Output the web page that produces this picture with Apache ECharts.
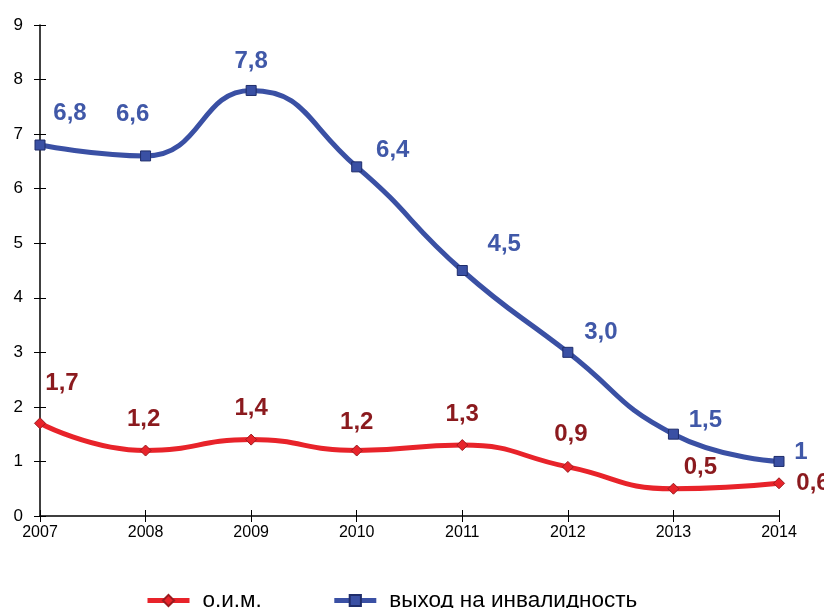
<!DOCTYPE html>
<html><head><meta charset="utf-8">
<script src="https://cdn.jsdelivr.net/npm/echarts@6/dist/echarts.min.js"></script>
<style>html,body{margin:0;padding:0;background:#fff}#c{width:824px;height:608px}</style>
</head><body><div id="c"></div>
<script>
var categories = ['2007','2008','2009','2010','2011','2012','2013','2014'];
var oimValues = [1.7, 1.2, 1.4, 1.2, 1.3, 0.9, 0.5, 0.6];
var disabilityValues = [6.8, 6.6, 7.8, 6.4, 4.5, 3.0, 1.5, 1.0];
var oimLabels = ['1,7','1,2','1,4','1,2','1,3','0,9','0,5','0,6'];
var disabilityLabels = ['6,8','6,6','7,8','6,4','4,5','3,0','1,5','1'];
var seriesNames = ['о.и.м.', 'выход на инвалидность'];

var oimOffsets = [[22,-40],[-2,-31],[0,-31],[0,-28],[0,-31],[3,-33],[27,-21],[34,0]];
var disOffsets = [[30,-32],[-13,-42],[0,-29],[36,-16],[42,-26],[33,-20],[32,-14],[22,-9]];

var FONT = '"Liberation Sans", Arial, sans-serif';

function buildData(vals, labels, offsets, color) {
  return vals.map(function (v, i) {
    return { value: v, label: { show: true, position: 'inside', offset: offsets[i], formatter: labels[i],
      color: color, fontSize: 24, fontWeight: 'bold', fontFamily: FONT } };
  });
}

var chart = echarts.init(document.getElementById('c'), null, { renderer: 'canvas' });
chart.setOption({
  animation: false,
  backgroundColor: '#fff',
  grid: { left: 40, right: 45, top: 25, bottom: 92, containLabel: false },
  legend: {
    show: true, top: 584, left: 140, itemWidth: 42, itemHeight: 14, itemGap: 70,
    lineStyle: { width: 5 },
    textStyle: { fontSize: 22.5, color: '#000', fontFamily: FONT, padding: [0, 0, 0, 8] },
    data: [seriesNames[0], seriesNames[1]]
  },
  xAxis: [{
    type: 'category', data: categories, boundaryGap: false,
    axisLine: { lineStyle: { color: '#000', width: 1.5 } },
    axisTick: { show: true, length: 6, lineStyle: { color: '#000' } },
    axisLabel: { fontSize: 16, margin: 9, color: '#000', fontFamily: FONT },
    splitLine: { show: false }
  }, {
    type: 'category', data: categories, boundaryGap: false, position: 'bottom',
    axisLine: { show: false },
    axisTick: { show: true, inside: true, length: 6, lineStyle: { color: '#000' } },
    axisLabel: { show: false }, splitLine: { show: false }
  }],
  yAxis: [{
    type: 'value', min: 0, max: 9, interval: 1,
    axisLine: { show: true, lineStyle: { color: '#000', width: 1.5 } },
    axisTick: { show: true, length: 6, lineStyle: { color: '#000' } },
    axisLabel: { fontSize: 17, margin: 17, color: '#000', fontFamily: FONT },
    splitLine: { show: false }
  }, {
    type: 'value', min: 0, max: 9, interval: 1, position: 'left',
    axisLine: { show: false },
    axisTick: { show: true, inside: true, length: 6, lineStyle: { color: '#000' } },
    axisLabel: { show: false }, splitLine: { show: false }
  }],
  series: [{
    name: seriesNames[0], type: 'line', smooth: 0.5,
    data: buildData(oimValues, oimLabels, oimOffsets, '#8B1A1E'),
    symbol: 'diamond', symbolSize: 11,
    lineStyle: { color: '#E8232A', width: 5 },
    itemStyle: { color: '#E8232A', borderColor: '#9B1B1F', borderWidth: 1 },
    z: 3
  }, {
    name: seriesNames[1], type: 'line', smooth: 0.5,
    data: buildData(disabilityValues, disabilityLabels, disOffsets, '#4058A8'),
    symbol: 'rect', symbolSize: 10,
    lineStyle: { color: '#3A50A4', width: 5 },
    itemStyle: { color: '#3A50A4', borderColor: '#1F2D6B', borderWidth: 1 },
    z: 3
  }]
});
</script></body></html>
